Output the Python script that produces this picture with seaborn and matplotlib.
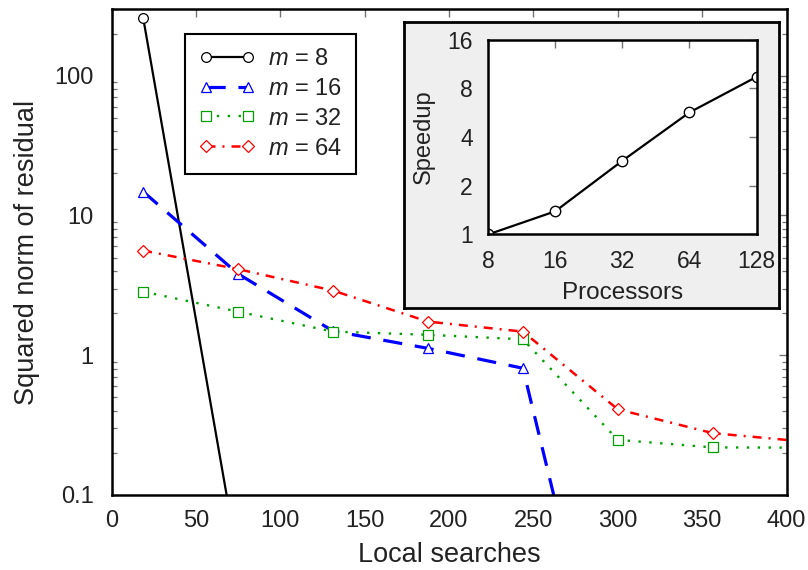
import numpy as np
import pandas as pd
import matplotlib
matplotlib.use("Agg")
import matplotlib.pyplot as plt
from matplotlib.ticker import FixedLocator, LogLocator, NullFormatter, FixedFormatter
import seaborn as sns

# ---- data -------------------------------------------------------------
searches = [18.75, 75.0, 131.25, 187.5, 243.75, 300.0, 356.25, 412.5]
res_m8 = [260.0, 0.034]
res_m16 = [14.8, 3.82, 1.49, 1.12, 0.807, 0.0013]
res_m32 = [2.85, 2.05, 1.476, 1.40, 1.30, 0.248, 0.219, 0.218]
res_m64 = [5.61, 4.13, 2.90, 1.74, 1.476, 0.41, 0.277, 0.24]
series_labels = ["$m$ = 8", "$m$ = 16", "$m$ = 32", "$m$ = 64"]

processors = [8, 16, 32, 64, 128]
speedup = [1.0, 1.39, 2.85, 5.67, 9.4]

x_ticks = [0, 50, 100, 150, 200, 250, 300, 350, 400]
y_ticks = [0.1, 1, 10, 100]
y_tick_labels = ["0.1", "1", "10", "100"]
proc_ticks = [8, 16, 32, 64, 128]
speed_ticks = [1, 2, 4, 8, 16]

# ---- style ------------------------------------------------------------
sns.set_theme(style="white")
plt.rcParams["font.family"] = ["Liberation Sans", "DejaVu Sans"]
plt.rcParams["mathtext.fontset"] = "custom"
plt.rcParams["mathtext.it"] = "Liberation Sans:italic"
plt.rcParams["mathtext.rm"] = "Liberation Sans"
TICK_FS = 17
LABEL_FS = 19.5

fig = plt.figure(figsize=(8.08, 5.70), dpi=100)
ax = fig.add_axes([0.138, 0.1316, 0.8355, 0.8526])

styles = [
    dict(color="black", marker="o", linestyle="-", lw=1.6),
    dict(color="#0000ff", marker="^", linestyle=(0, (6, 4)), lw=2.3),
    dict(color="#00a000", marker="s", linestyle=(0, (1, 3.6)), lw=1.7),
    dict(color="#ff0000", marker="D", linestyle=(0, (3.6, 2.8, 0.8, 2.8)), lw=1.8),
]
marker_sizes = [7, 7.5, 7, 6.5]
all_res = [res_m8, res_m16, res_m32, res_m64]

handles = []
for res, st, ms, lab in zip(all_res, styles, marker_sizes, series_labels):
    df = pd.DataFrame({"x": searches[:len(res)], "y": res})
    n_before = len(ax.lines)
    sns.lineplot(data=df, x="x", y="y", ax=ax, color=st["color"],
                 marker=st["marker"], linestyle=st["linestyle"],
                 linewidth=st["lw"], markersize=ms, markerfacecolor="white",
                 markeredgecolor=st["color"], markeredgewidth=0.9,
                 label=lab, legend=False)
    line = ax.lines[n_before]
    line.set_markerfacecolor("white")
    line.set_markeredgewidth(0.9)
    line.set_markeredgecolor(st["color"])
    handles.append(line)

ax.set_yscale("log")
ax.set_xlim(0, 400)
ax.set_ylim(0.1, 300)
ax.xaxis.set_major_locator(FixedLocator(x_ticks))
ax.yaxis.set_major_locator(FixedLocator(y_ticks))
ax.yaxis.set_major_formatter(FixedFormatter(y_tick_labels))
ax.yaxis.set_minor_locator(LogLocator(base=10, subs=np.arange(2, 10)))
ax.yaxis.set_minor_formatter(NullFormatter())
ax.tick_params(axis="both", which="major", direction="in", top=True, right=True,
               length=6, width=1.0, color="0.45", labelsize=TICK_FS,
               labelcolor="#222222")
ax.tick_params(axis="x", which="major", pad=11)
ax.tick_params(axis="y", which="major", pad=13)
ax.tick_params(axis="y", which="minor", direction="in", left=True, right=True,
               length=3.5, width=0.9, color="0.45")
for sp in ax.spines.values():
    sp.set_color("black")
    sp.set_linewidth(1.8)
ax.set_xlabel("Local searches", fontsize=LABEL_FS, color="#222222", labelpad=7)
ax.set_ylabel("Squared norm of residual", fontsize=LABEL_FS, color="#222222", labelpad=10)

leg = ax.legend(handles, series_labels, loc="upper left",
                bbox_to_anchor=(0.109, 0.9486), borderaxespad=0,
                fontsize=TICK_FS, frameon=True, fancybox=False, framealpha=1,
                edgecolor="black", numpoints=2, handlelength=2.35,
                handletextpad=0.55, borderpad=0.6, labelspacing=0.33)
leg.get_frame().set_linewidth(1.5)
for t in leg.get_texts():
    t.set_color("#222222")

# ---- inset: speedup vs processors --------------------------------------
bg = fig.add_axes([0.5, 0.4596, 0.4641, 0.5023])
bg.set_facecolor("#efefef")
bg.set_xticks([])
bg.set_yticks([])
for sp in bg.spines.values():
    sp.set_color("black")
    sp.set_linewidth(2.0)

ins = fig.add_axes([0.604, 0.5886, 0.3323, 0.3421])
ins.set_facecolor("white")
sns.lineplot(x=processors, y=speedup, ax=ins, color="black", marker="o",
             markersize=7.5, markerfacecolor="white", markeredgecolor="black",
             markeredgewidth=1.0, linewidth=1.6, legend=False)
ins.lines[0].set_markerfacecolor("white")
ins.set_xscale("log", base=2)
ins.set_yscale("log", base=2)
ins.set_xlim(8, 128)
ins.set_ylim(1, 16)
ins.xaxis.set_major_locator(FixedLocator(proc_ticks))
ins.xaxis.set_major_formatter(FixedFormatter([str(v) for v in proc_ticks]))
ins.yaxis.set_major_locator(FixedLocator(speed_ticks))
ins.yaxis.set_major_formatter(FixedFormatter([str(v) for v in speed_ticks]))
ins.xaxis.set_minor_locator(FixedLocator([]))
ins.yaxis.set_minor_locator(FixedLocator([]))
ins.tick_params(axis="both", which="major", direction="in", top=True, right=True,
                length=6, width=1.0, color="0.45", labelsize=TICK_FS - 0.5,
                labelcolor="#222222", pad=11)
for sp in ins.spines.values():
    sp.set_color("black")
    sp.set_linewidth(1.8)
ins.set_xlabel("Processors", fontsize=TICK_FS + 0.5, color="#222222", labelpad=7)
ins.set_ylabel("Speedup", fontsize=TICK_FS, color="#222222", labelpad=9)

fig.savefig("out.png", dpi=100)
